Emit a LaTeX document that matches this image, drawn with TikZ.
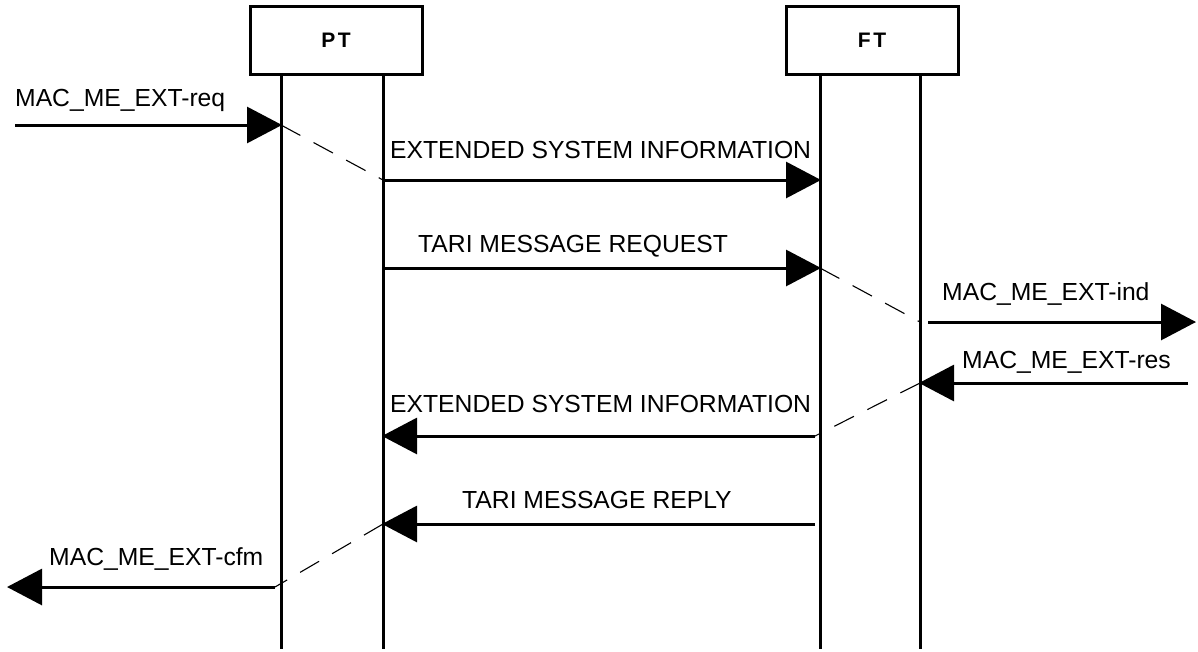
\documentclass[tikz,border=0pt]{standalone}
\usepackage{fontspec}
\setmainfont{Liberation Sans}
\usetikzlibrary{arrows.meta}
\begin{document}
\begin{tikzpicture}[x=1pt,y=-1pt,
  entity/.style={draw,line width=3pt,minimum width=172pt,minimum height=68pt,inner sep=0pt,font=\fontsize{21}{25}\selectfont\bfseries\addfontfeatures{LetterSpace=12}},
  lifeline/.style={line width=3pt},
  msg/.style={line width=3pt,-{Triangle[length=35pt,width=36pt]},shorten >=-1pt},
  hint/.style={line width=1.1pt,dash pattern=on 22pt off 15pt},
  lbl/.style={anchor=base west,inner sep=0pt,font=\fontsize{24.7}{28}\selectfont}]
\useasboundingbox (0,0) rectangle (1198,651);
% entities
\node[entity] (PT) at (336,40) {PT};
\node[entity] (FT) at (872,40) {FT};
% lifelines
\coordinate (pl) at (281,75); \coordinate (plb) at (281,649);
\coordinate (pr) at (383,75); \coordinate (prb) at (383,649);
\coordinate (fl) at (820,75); \coordinate (flb) at (820,649);
\coordinate (fr) at (920,75); \coordinate (frb) at (920,649);
\draw[lifeline] (pl) -- (plb);
\draw[lifeline] (pr) -- (prb);
\draw[lifeline] (fl) -- (flb);
\draw[lifeline] (fr) -- (frb);
% message endpoints
\coordinate (reqS) at (15,125);   \coordinate (reqE) at (281,125);
\coordinate (esiS) at (383,180);  \coordinate (esiE) at (820,180);
\coordinate (treqS) at (383,268); \coordinate (treqE) at (820,268);
\coordinate (indS) at (928,322);  \coordinate (indE) at (1195,322);
\coordinate (resS) at (1188,383); \coordinate (resE) at (920,383);
\coordinate (esbS) at (815,436);  \coordinate (esbE) at (383,436);
\coordinate (trepS) at (815,524); \coordinate (trepE) at (383,524);
\coordinate (cfmS) at (275,587);  \coordinate (cfmE) at (8,587);
% messages
\draw[msg] (reqS) -- (reqE);
\draw[msg] (esiS) -- (esiE);
\draw[msg] (treqS) -- (treqE);
\draw[msg] (indS) -- (indE);
\draw[msg] (resS) -- (resE);
\draw[msg] (esbS) -- (esbE);
\draw[msg] (trepS) -- (trepE);
\draw[msg] (cfmS) -- (cfmE);
% dashed internal links
\draw[hint] (reqE) -- (esiS);
\draw[hint] (treqE) -- (fr |- indS);
\draw[hint] (resE) -- (esbS);
\draw[hint] (trepE) -- (cfmS);
% labels
\node[lbl] (lreq) at (15,106) {MAC\_ME\_EXT-req};
\node[lbl] (lesi) at (390,158) {EXTENDED SYSTEM INFORMATION};
\node[lbl] (ltreq) at (418,252) {TARI MESSAGE REQUEST};
\node[lbl] (lind) at (942,300) {MAC\_ME\_EXT-ind};
\node[lbl] (lres) at (962,368) {MAC\_ME\_EXT-res};
\node[lbl] (lesb) at (390,412) {EXTENDED SYSTEM INFORMATION};
\node[lbl] (ltrep) at (462,508) {TARI MESSAGE REPLY};
\node[lbl] (lcfm) at (49,565) {MAC\_ME\_EXT-cfm};
\end{tikzpicture}
\end{document}
